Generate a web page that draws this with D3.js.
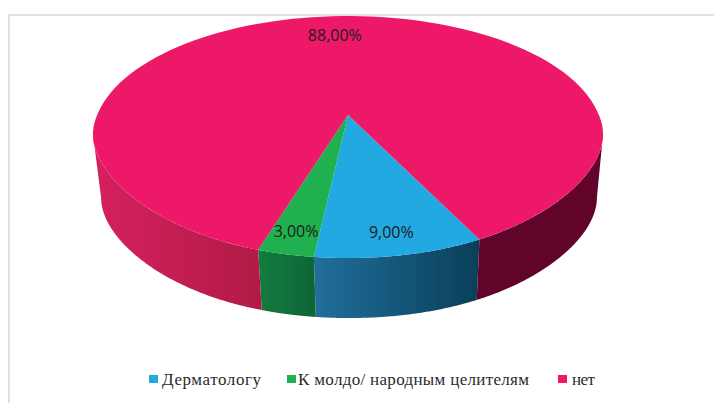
<!DOCTYPE html>
<html>
<head>
<meta charset="utf-8">
<script src="https://cdn.jsdelivr.net/npm/d3@7"></script>
<style>
html, body { margin: 0; padding: 0; background: #fff; }
svg { display: block; }
</style>
</head>
<body>
<svg id="chart" width="714" height="403"></svg>
<script>
(function(){
'use strict';

const categories = ['Дерматологу', 'К молдо/ народным целителям', 'нет'];
const values = [9, 3, 88];
const valueLabels = ['9,00%', '3,00%', '88,00%'];

const topColors = ['#22a9e1', '#1fb14f', '#ed1968'];
// left / right shade of the wall, per slice
const wallShades = [['#216f9c', '#093f58'], ['#127c40', '#0e6536'], ['#d6205f', '#b21b46']];
const wallDark = '#60042a';

const svg = d3.select('#chart');
const defs = svg.append('defs');

// 3D look: the disc is tilted, so the centre sits above the middle of the ellipse
const cx = 348, baseCx = 349, topY = 115, baseY = 179;
const radiusX = 250.8, radiusY = 117, tilt = 0.182, baseScale = 0.972;
const flatten = 17; // the front flanks of the excel pie are a bit flatter than a true ellipse

function project(angle, r, x0, y0, s) {
    const u = Math.sin(angle) * r,
        v = -Math.cos(angle) * r,
        w = 1 - tilt * v,
        dy = v > 0 ? flatten * Math.pow(Math.abs(u), 3) * v : 0;
    return [x0 + s * radiusX * u / w, y0 + s * radiusY * v / w - dy];
}
const onTop = (a, r) => project(a, r === undefined ? 1 : r, cx, topY, 1);
const onBase = a => project(a, 1, baseCx, baseY, baseScale);

const toRad = d3.scaleLinear().domain([0, 360]).range([0, 2 * Math.PI]);
const pie = d3.pie().sort(null).startAngle(toRad(154)).endAngle(toRad(514));
const arcs = pie(values);

const line = d3.line();
const samples = (a0, a1) => d3.range(0, 121).map(i => a0 + (a1 - a0) * i / 120);

// the wall is only visible between the two tangent points of the ellipse
const wallStart = toRad(90) + Math.asin(tilt), wallEnd = toRad(270) - Math.asin(tilt);

const walls = [];
arcs.forEach(function(d, i) {
    for (let k = -1; k <= 1; k++) {
        const a0 = Math.max(d.startAngle + k * 2 * Math.PI, wallStart),
            a1 = Math.min(d.endAngle + k * 2 * Math.PI, wallEnd);
        if (a1 > a0) walls.push({i: i, a0: a0, a1: a1});
    }
});

walls.forEach(function(w, n) {
    const isRightRed = w.i === 2 && w.a0 < toRad(180);
    const xs = [onTop(w.a0)[0], onTop(w.a1)[0]];
    const id = 'wall' + n;
    const grad = defs.append('linearGradient').attr('id', id)
        .attr('gradientUnits', 'userSpaceOnUse')
        .attr('x1', Math.min(xs[0], xs[1])).attr('x2', Math.max(xs[0], xs[1]))
        .attr('y1', 0).attr('y2', 0);
    const shades = isRightRed ? [wallDark, wallDark] : wallShades[w.i];
    grad.append('stop').attr('offset', 0).attr('stop-color', shades[0]);
    grad.append('stop').attr('offset', 1).attr('stop-color', shades[1]);
    const upper = samples(w.a0, w.a1).map(a => onTop(a));
    const lower = samples(w.a0, w.a1).reverse().map(onBase);
    svg.append('path')
        .attr('d', line(upper.concat(lower)) + 'Z')
        .attr('fill', 'url(#' + id + ')');
});

// top face
svg.selectAll('path.slice').data(arcs).enter().append('path')
    .attr('class', 'slice')
    .attr('fill', (d, i) => topColors[i])
    .attr('d', d => line([[cx, topY]].concat(samples(d.startAngle, d.endAngle).map(a => onTop(a)))) + 'Z');

// value labels
const labelRadius = d => d.value > 50 ? 0.78 : 0.858;
svg.selectAll('text.value').data(arcs).enter().append('text')
    .attr('class', 'value')
    .attr('x', d => onTop((d.startAngle + d.endAngle) / 2, labelRadius(d))[0])
    .attr('y', d => onTop((d.startAngle + d.endAngle) / 2, labelRadius(d))[1] + 6)
    .attr('text-anchor', 'middle')
    .attr('font-family', '"Open Sans", sans-serif')
    .attr('font-size', 16)
    .attr('fill', '#1c1c1c')
    .text((d, i) => valueLabels[i]);

// chart frame, cut off by the window on the right and bottom
svg.append('path')
    .attr('d', 'M9,403V15H714')
    .attr('fill', 'none')
    .attr('stroke', '#d9d9d9')
    .attr('stroke-width', 1.5);

// legend
const legendSquares = [149, 287, 558], legendTexts = [162, 298, 572], legendWidths = [99, 231, 23];
const legend = svg.selectAll('g.legend').data(categories).enter().append('g').attr('class', 'legend');
legend.append('rect')
    .attr('x', (d, i) => legendSquares[i])
    .attr('y', 375)
    .attr('width', 9).attr('height', 8)
    .attr('fill', (d, i) => topColors[i]);
legend.append('text')
    .attr('x', (d, i) => legendTexts[i])
    .attr('y', 385)
    .attr('font-family', '"Liberation Serif", serif')
    .attr('font-size', 17)
    .attr('fill', '#2b2b2b')
    .attr('textLength', (d, i) => legendWidths[i])
    .attr('lengthAdjust', 'spacing')
    .text(d => d);
})();
</script>
</body>
</html>
